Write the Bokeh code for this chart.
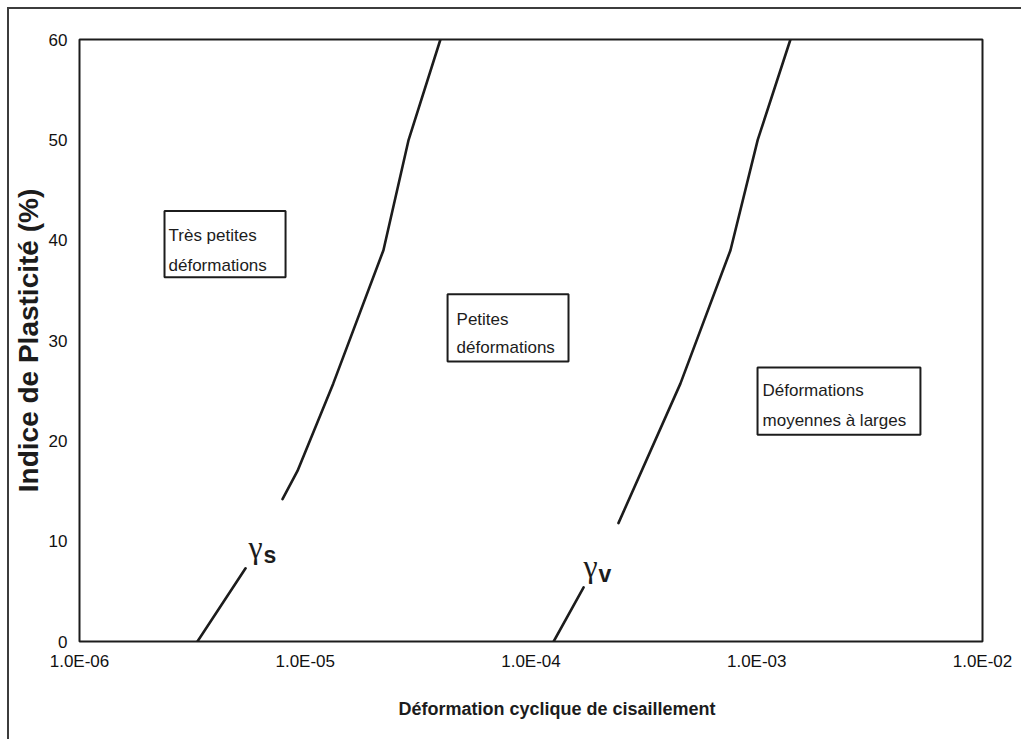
from bokeh.plotting import figure
from bokeh.models import Label, Range1d, FixedTicker, CustomJSTickFormatter, Title
from bokeh.embed import file_html
from bokeh.resources import INLINE

# Shear-strain thresholds versus plasticity index
# gamma_s : very small strain threshold, gamma_v : volumetric threshold
gs_low_x = [3.33e-6, 5.44e-6]
gs_low_y = [0.0, 7.3]
gs_up_x = [7.93e-6, 9.24e-6, 1.33e-5, 2.22e-5, 2.87e-5, 3.97e-5]
gs_up_y = [14.2, 17.0, 25.7, 39.0, 50.0, 60.0]

gv_low_x = [1.26e-4, 1.71e-4]
gv_low_y = [0.0, 5.4]
gv_up_x = [2.44e-4, 4.59e-4, 7.65e-4, 1.01e-3, 1.41e-3]
gv_up_y = [11.8, 25.7, 39.0, 50.0, 60.0]

x_ticks = [1e-6, 1e-5, 1e-4, 1e-3, 1e-2]
x_tick_labels = ["1.0E-06", "1.0E-05", "1.0E-04", "1.0E-03", "1.0E-02"]
y_ticks = [0, 10, 20, 30, 40, 50, 60]

zone_lines = [
    ["Très petites", "déformations"],
    ["Petites", "déformations"],
    ["Déformations", "moyennes à larges"],
]

# boxes around the zone names (data units)
zone_boxes = [
    dict(left=2.38e-6, right=8.18e-6, top=42.9, bottom=36.3, dx=4, dy=(-24, -54)),
    dict(left=4.27e-5, right=1.466e-4, top=34.6, bottom=27.9, dx=9, dy=(-25, -53)),
    dict(left=1.008e-3, right=5.31e-3, top=27.3, bottom=20.6, dx=5, dy=(-23, -53)),
]

INK = "#1c1c1c"
SANS = "Liberation Sans"

p = figure(width=1014, height=732, x_axis_type="log",
           x_range=Range1d(1e-6, 1e-2), y_range=Range1d(0, 60),
           output_backend="svg", toolbar_location=None,
           min_border_left=70, min_border_right=41,
           min_border_top=30, min_border_bottom=100)
p.styles = {"margin-left": "7px", "margin-top": "7px",
            "border-top": "2px solid #3c3c3c", "border-left": "2px solid #3c3c3c"}
p.background_fill_color = "white"
p.border_fill_color = "white"
p.grid.visible = False
p.outline_line_color = INK
p.outline_line_width = 2

for ax in (p.xaxis[0], p.yaxis[0]):
    ax.axis_line_color = None
    ax.major_tick_line_color = None
    ax.minor_tick_line_color = None
    ax.major_tick_out = 0
    ax.major_tick_in = 0
    ax.minor_tick_out = 0
    ax.major_label_text_font = SANS
    ax.major_label_text_font_size = "17px"
    ax.major_label_text_color = "#111111"

p.xaxis.ticker = FixedTicker(ticks=x_ticks)
p.xaxis.formatter = CustomJSTickFormatter(args=dict(tvals=x_ticks, tlabels=x_tick_labels), code="""
    let best = 0, bd = Infinity;
    for (let i = 0; i < tvals.length; i++) {
        const d = Math.abs(Math.log10(tvals[i]) - Math.log10(tick));
        if (d < bd) { bd = d; best = i; }
    }
    return tlabels[best];
""")
p.xaxis.major_label_standoff = 10
p.yaxis.ticker = FixedTicker(ticks=y_ticks)
p.yaxis.major_label_standoff = 12

# axis titles
p.yaxis.axis_label = "Indice de Plasticité (%)"
p.yaxis.axis_label_text_font = SANS
p.yaxis.axis_label_text_font_size = "28px"
p.yaxis.axis_label_text_font_style = "bold"
p.yaxis.axis_label_text_color = INK
p.yaxis.axis_label_standoff = 2

p.add_layout(Title(text="Déformation cyclique de cisaillement", align="left", offset=319,
                   standoff=46, text_font=SANS, text_font_size="18px",
                   text_font_style="bold", text_color=INK), "below")

# threshold curves, interrupted where their symbols sit
for xs, ys in ((gs_low_x, gs_low_y), (gs_up_x, gs_up_y),
               (gv_low_x, gv_low_y), (gv_up_x, gv_up_y)):
    p.line(xs, ys, line_color=INK, line_width=2.6, line_join="round", line_cap="round")

# zone boxes and names
for lines, b in zip(zone_lines, zone_boxes):
    p.quad(left=b["left"], right=b["right"], top=b["top"], bottom=b["bottom"],
           fill_color="white", line_color=INK, line_width=2)
    for t, dy in zip(lines, b["dy"]):
        p.add_layout(Label(x=b["left"], y=b["top"], x_offset=b["dx"], y_offset=dy,
                           text=t, text_font=SANS, text_font_size="17px",
                           text_color=INK, text_align="left", text_baseline="alphabetic"))

# curve symbols
def symbol(x, y, sub_dx, sub_dy, sub):
    p.add_layout(Label(x=x, y=y, text="γ", text_font="Liberation Serif",
                       text_font_size="32px", text_color=INK,
                       text_align="left", text_baseline="alphabetic"))
    p.add_layout(Label(x=x, y=y, x_offset=sub_dx, y_offset=sub_dy, text=sub,
                       text_font=SANS, text_font_size="23px", text_font_style="bold",
                       text_color=INK, text_align="left", text_baseline="alphabetic"))

symbol(5.61e-6, 9.37, 15, -8, "s")
symbol(1.708e-4, 7.57, 15, -8, "v")

open("out.html", "w").write(file_html(p, INLINE))
